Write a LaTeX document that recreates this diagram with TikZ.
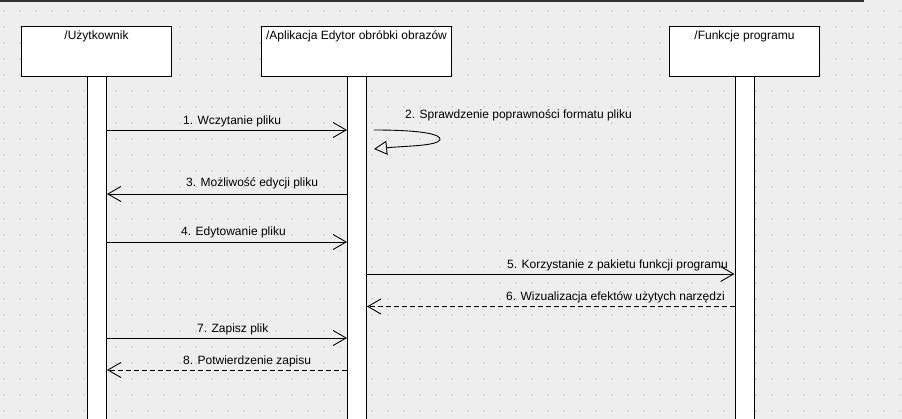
\documentclass[tikz,border=0pt]{standalone}
\usepackage{fontspec}
\setmainfont{Liberation Sans}
\usetikzlibrary{arrows.meta}
\definecolor{bgc}{HTML}{EEEEEE}
\definecolor{dotc}{HTML}{D8D8D8}
\definecolor{topc}{HTML}{333333}
\begin{document}
\begin{tikzpicture}[x=1pt,y=-1pt,
  every node/.style={font=\fontsize{12}{14}\selectfont},
  head/.style={draw=black,fill=white,line width=1pt,minimum width=150pt,minimum height=50pt,inner sep=0pt,anchor=north west},
  bar/.style={draw=black,fill=white,line width=1pt,inner sep=0pt,anchor=north west,minimum width=19pt},
  lbl/.style={inner sep=0pt,anchor=base west},
  msg/.style={draw=black,line width=0.9pt,-{Straight Barb[length=13pt,width=15pt,line width=0.9pt]}},
  ret/.style={msg,dash pattern=on 5pt off 3pt},
]
\useasboundingbox (0,0) rectangle (902,419);
\fill[bgc] (0,0) rectangle (902,419);
\foreach \i in {0,...,56}{\foreach \j in {0,...,25}{
  \fill[dotc] (4+16*\i-1,11+16*\j-1) rectangle ++(2.2,2.2);}}
\fill[topc] (0,0) rectangle (864,2.2);

% lifeline bars
\node[bar,minimum height=345pt] (b1) at (87,76) {};
\node[bar,minimum height=345pt] (b2) at (347,76) {};
\node[bar,minimum height=345pt] (b3) at (734.5,76) {};

% heads
\node[head] (h1) at (21,26) {};
\node[head,minimum width=190pt] (h2) at (261,26) {};
\node[head] (h3) at (669,26) {};
\node[inner sep=0pt,anchor=base] (t1) at (h1.north |- 0,40) {/Użytkownik};
\node[inner sep=0pt,anchor=base] (t2) at (h2.north |- 0,40) {/Aplikacja Edytor obróbki obrazów};
\node[inner sep=0pt,anchor=base] (t3) at (h3.north |- 0,40) {/Funkcje programu};

% message 1
\draw[msg] (b1.east |- 0,130) coordinate (m1a) -- (b2.west |- m1a);
\node[lbl] (l1) at (183,125) {1. Wczytanie pliku};
% message 2 (self)
\coordinate (s2a) at (374,130);
\coordinate (s2b) at (440,140);
\coordinate (s2c) at (374,149);
\draw[black,line width=0.9pt,-{Triangle[open,length=13pt,width=14pt,line width=0.9pt]}]
  (s2a) .. controls (420,130) and (442,134) .. (s2b)
  .. controls (436,146) and (405,146) .. (s2c);
\node[lbl] (l2) at (405,118.5) {2. Sprawdzenie poprawności formatu pliku};
% message 3
\draw[msg] (b2.west |- 0,194) coordinate (m3a) -- (b1.east |- m3a);
\node[lbl] (l3) at (186,187) {3. Możliwość edycji pliku};
% message 4
\draw[msg] (b1.east |- 0,242) coordinate (m4a) -- (b2.west |- m4a);
\node[lbl] (l4) at (181,236) {4. Edytowanie pliku};
% message 5
\draw[msg] (b2.east |- 0,274) coordinate (m5a) -- (b3.west |- m5a);
\node[lbl] (l5) at (507,269) {5. Korzystanie z pakietu funkcji programu};
% message 6
\draw[ret] (b3.west |- 0,306.5) coordinate (m6a) -- (b2.east |- m6a);
\node[lbl] (l6) at (506,301) {6. Wizualizacja efektów użytych narzędzi};
% message 7
\draw[msg] (b1.east |- 0,338) coordinate (m7a) -- (b2.west |- m7a);
\node[lbl] (l7) at (197,333) {7. Zapisz plik};
% message 8
\draw[ret] (b2.west |- 0,370) coordinate (m8a) -- (b1.east |- m8a);
\node[lbl] (l8) at (183,365) {8. Potwierdzenie zapisu};
\end{tikzpicture}
\end{document}
